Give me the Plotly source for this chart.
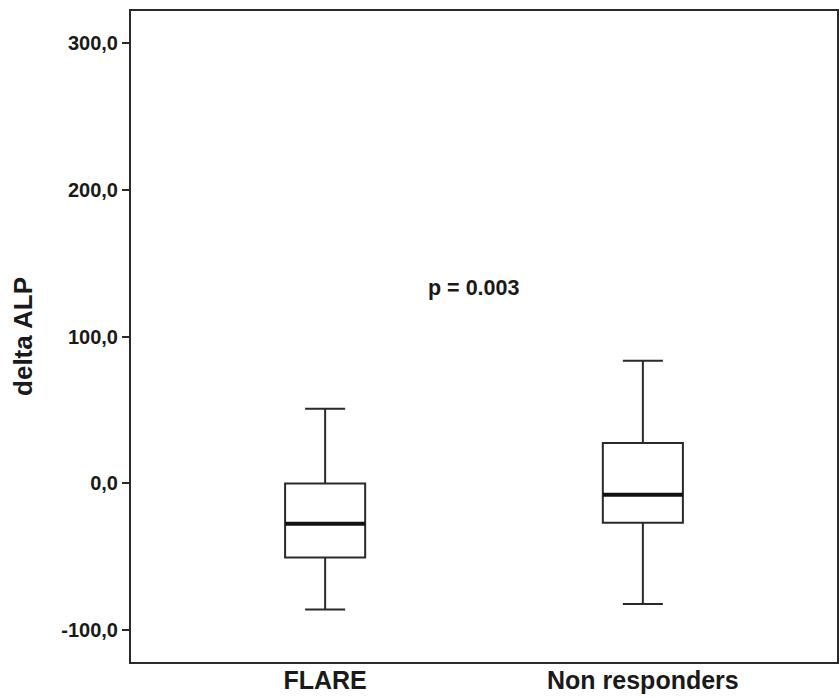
import plotly.graph_objects as go

categories = ["FLARE", "Non responders"]
lower_whisker = [-85.9, -82.1]
q1 = [-50.4, -26.8]
median = [-27.4, -7.7]
q3 = [0.0, 27.5]
upper_whisker = [50.9, 83.5]

y_ticks = [-100, 0, 100, 200, 300]
y_tick_labels = ["-100,0", "0,0", "100,0", "200,0", "300,0"]

p_text = "p = 0.003"

box_w = 0.252
FONT = "Liberation Sans"
LC = "#2a2a2a"
TC = "#1a1a1a"

fig = go.Figure()
pos = list(range(len(categories)))
for i, c in enumerate(categories):
    fig.add_trace(go.Box(
        x=[pos[i]], q1=[q1[i]], median=[median[i]], q3=[q3[i]],
        lowerfence=[lower_whisker[i]], upperfence=[upper_whisker[i]],
        width=box_w, whiskerwidth=0.5, boxpoints=False,
        fillcolor="white", line=dict(color=LC, width=2),
        name=c, showlegend=False, hoverinfo="skip"))
    fig.add_trace(go.Scatter(
        x=[pos[i] - box_w / 2, pos[i] + box_w / 2], y=[median[i], median[i]],
        mode="lines", line=dict(color="#111", width=4),
        showlegend=False, hoverinfo="skip"))

fig.add_annotation(x=0.468, y=133, xref="x", yref="y", text=p_text, showarrow=False,
                   font=dict(family=FONT, size=21.5, color=TC, weight="bold"))

fig.update_layout(
    width=840, height=697,
    margin=dict(l=131, r=3, t=11, b=35),
    paper_bgcolor="white", plot_bgcolor="white",
    xaxis=dict(range=[-0.611, 1.611], tickvals=pos, ticktext=categories,
               showgrid=False, zeroline=False, showline=True, mirror=True,
               linecolor=LC, linewidth=2, ticks="", automargin=False,
               ticklabelstandoff=-5,
               tickfont=dict(family=FONT, size=25, color=TC, weight="bold")),
    yaxis=dict(range=[-121.6, 321.8], tickvals=y_ticks, ticktext=y_tick_labels,
               showgrid=False, zeroline=False, showline=True, mirror=True,
               linecolor=LC, linewidth=2, ticks="outside", ticklen=7, tickwidth=2,
               tickcolor=LC, automargin=False,
               tickfont=dict(family=FONT, size=20, color=TC, weight="bold"),
               title=dict(text="delta ALP", standoff=21,
                          font=dict(family=FONT, size=26, color=TC, weight="bold"))),
)

fig.write_html("out.html")
